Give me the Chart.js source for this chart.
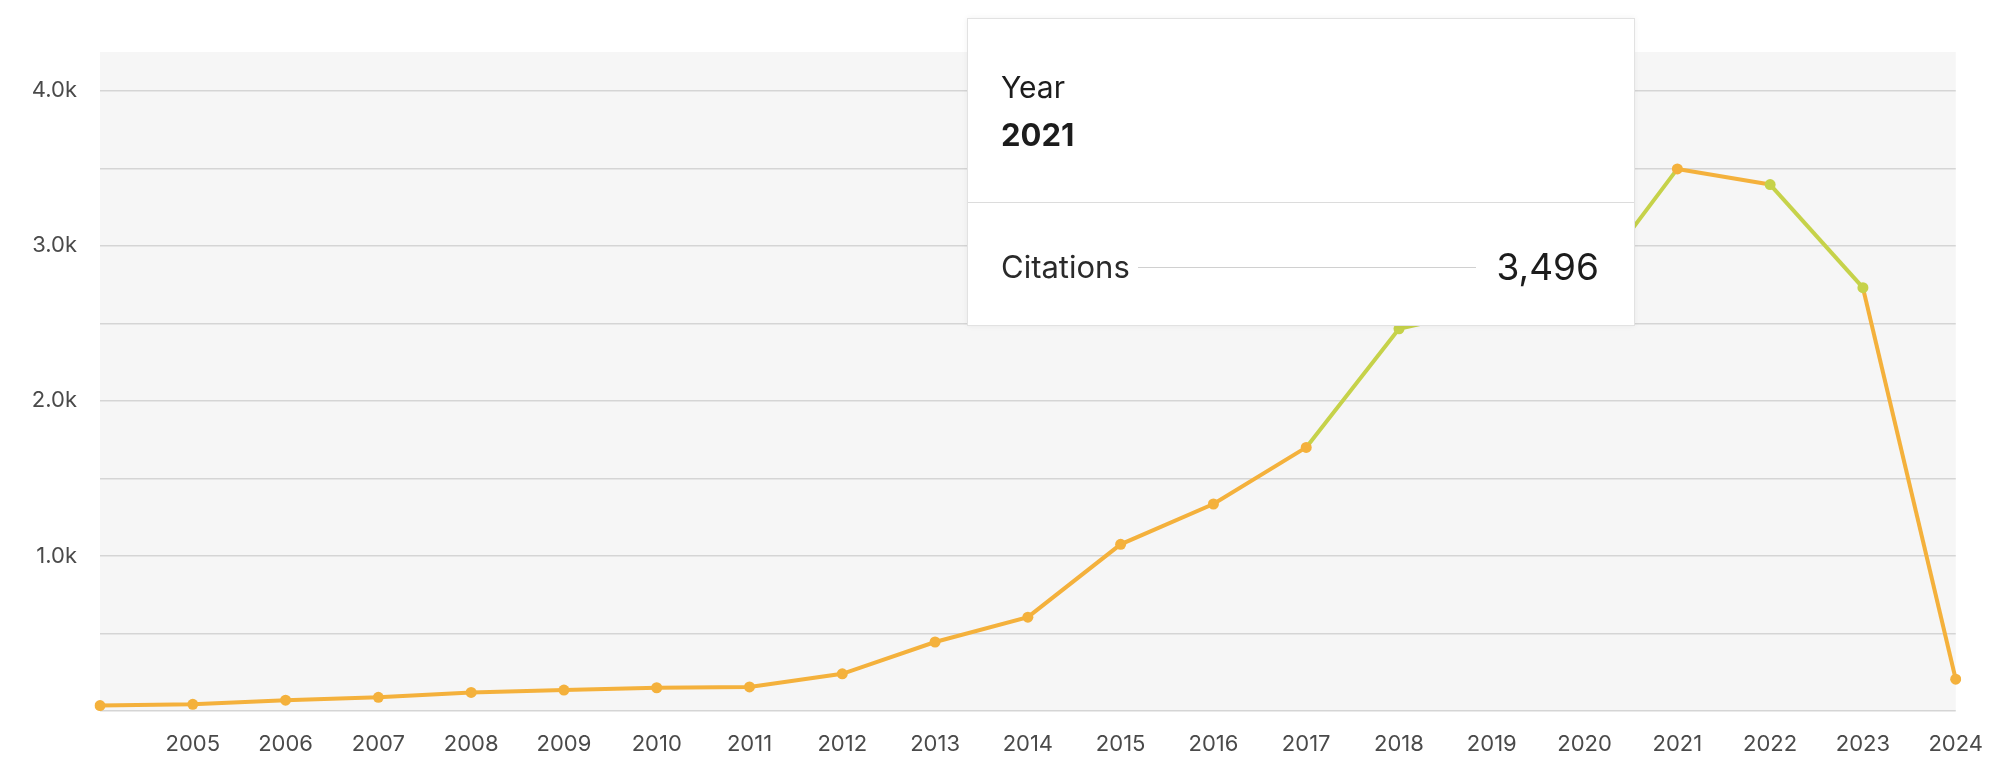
<!DOCTYPE html>
<html>
<head>
<meta charset="utf-8">
<script src="https://cdn.jsdelivr.net/npm/chart.js@4/dist/chart.umd.min.js"></script>
<style>
  html, body { margin: 0; padding: 0; background: #ffffff; }
  #wrap { position: relative; width: 2003px; height: 757px; }
  #c { position: absolute; left: 0; top: 0; }
  #tip {
    position: absolute; left: 967px; top: 18px; width: 668px; height: 308px;
    background: #ffffff; border: 1px solid #e2e2e2; box-sizing: border-box;
    box-shadow: 0 0 6px rgba(0,0,0,0.06);
    font-family: Inter, "Helvetica Neue", Arial, sans-serif; color: #1c1c1c;
  }
  #tip .k1 { position: absolute; left: 33px; top: 50px; font-size: 30px; line-height: 36px; }
  #tip .k2 { position: absolute; left: 33px; top: 97px; font-size: 31px; line-height: 38px; font-weight: 700; }
  #tip .div { position: absolute; left: 0; right: 0; top: 183px; height: 0; border-top: 1.5px solid #dcdcdc; }
  #tip .lab { position: absolute; left: 33px; top: 229px; font-size: 31px; line-height: 38px; color: #2a2a2a; }
  #tip .line { position: absolute; left: 170px; width: 338px; top: 248px; border-top: 1.5px solid #d0d0d0; }
  #tip .val { position: absolute; right: 35px; top: 226px; font-size: 37px; line-height: 44px; color: #1c1c1c; }
</style>
</head>
<body>
<div id="wrap">
  <canvas id="c" width="2003" height="757"></canvas>
  <div id="tip">
    <div class="k1" id="tipKey">Year</div>
    <div class="k2" id="tipYear"></div>
    <div class="div"></div>
    <div class="lab" id="tipLabel">Citations</div>
    <div class="line"></div>
    <div class="val" id="tipVal"></div>
  </div>
</div>
<script>
const years = ["2004","2005","2006","2007","2008","2009","2010","2011","2012","2013","2014","2015","2016","2017","2018","2019","2020","2021","2022","2023","2024"];
const citations = [35, 43, 70, 88, 120, 135, 150, 155, 240, 445, 605, 1075, 1335, 1700, 2465, 2600, 2700, 3496, 3395, 2730, 205];
const yTickValues = [0, 500, 1000, 1500, 2000, 2500, 3000, 3500, 4000];
const yTickLabels = ["", "", "1.0k", "", "2.0k", "", "3.0k", "", "4.0k"];
const hiddenTickLabels = ["2004"];
const seriesName = "Citations";
const tooltipIndex = 17;

const ORANGE = "#f4b13c";
const GREEN = "#c6d24a";
const greenSegments = [13, 14, 15, 16, 18];

document.getElementById("tipYear").textContent = years[tooltipIndex];
document.getElementById("tipLabel").textContent = seriesName;
document.getElementById("tipVal").textContent = citations[tooltipIndex].toLocaleString("en-US");

const plotBg = {
  id: "plotBg",
  beforeDraw(chart) {
    const a = chart.chartArea, ctx = chart.ctx;
    ctx.save();
    ctx.fillStyle = "#f6f6f6";
    ctx.fillRect(a.left, a.top, a.right - a.left, a.bottom - a.top);
    ctx.restore();
  }
};

new Chart(document.getElementById("c"), {
  type: "line",
  data: {
    labels: years,
    datasets: [{
      label: seriesName,
      data: citations,
      borderColor: ORANGE,
      backgroundColor: ORANGE,
      borderWidth: 4,
      pointRadius: 5.5,
      pointBorderWidth: 0,
      pointBackgroundColor: citations.map((v, i) => (i >= 14 && i <= 19 && i !== 17) ? GREEN : ORANGE),
      tension: 0,
      segment: {
        borderColor: ctx => greenSegments.includes(ctx.p0DataIndex) ? GREEN : ORANGE
      }
    }]
  },
  options: {
    responsive: false,
    animation: false,
    devicePixelRatio: 1,
    layout: { padding: { top: 52, right: 45, left: 0, bottom: 0 } },
    plugins: { legend: { display: false }, tooltip: { enabled: false } },
    scales: {
      x: {
        offset: false,
        afterFit: s => { s.height = 46; },
        grid: { display: false, drawTicks: false },
        border: { display: false },
        ticks: {
          padding: 20,
          color: "#4a4a4a",
          font: { family: "Inter", size: 22 },
          maxRotation: 0,
          autoSkip: false,
          callback: function (v, i) { const l = this.getLabelForValue(v); return hiddenTickLabels.includes(l) ? "" : l; }
        }
      },
      y: {
        type: "linear",
        min: 0,
        max: 4250,
        afterBuildTicks: s => { s.ticks = yTickValues.map(v => ({ value: v })); },
        afterFit: s => { s.width = 100; },
        grid: { color: "#d5d5d5", lineWidth: 1.5, drawTicks: false },
        border: { display: false },
        ticks: {
          autoSkip: false,
          padding: 23,
          color: "#4a4a4a",
          font: { family: "Inter", size: 22 },
          callback: v => { const k = yTickValues.indexOf(v); return k >= 0 ? yTickLabels[k] : ""; }
        }
      }
    }
  },
  plugins: [plotBg]
});
</script>
</body>
</html>
